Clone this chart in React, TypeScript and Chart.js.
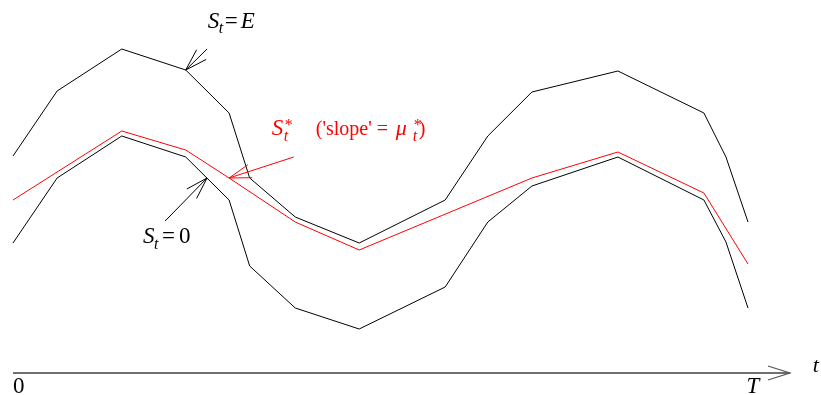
import React, { useEffect, useRef } from "react";
import { Chart, registerables } from "chart.js";

Chart.register(...registerables);

// time grid as a fraction of the horizon T (0 .. 1)
const T_GRID = [0, 0.06, 0.148, 0.235, 0.294, 0.322, 0.384, 0.471, 0.588, 0.646, 0.706, 0.823, 0.94, 0.97, 1.0];
// upper boundary S_t = E
const S_UPPER = [21.7, 28.2, 32.4, 30.3, 26.0, 19.5, 15.6, 13.0, 17.3, 23.7, 28.1, 30.2, 26.0, 21.6, 15.1];
// lower boundary S_t = 0
const S_LOWER = [13.0, 19.5, 23.7, 21.6, 17.3, 10.7, 6.5, 4.4, 8.6, 15.1, 18.7, 21.6, 17.3, 13.1, 6.5];
// optimal path S*_t
const T_STAR = [0, 0.148, 0.235, 0.294, 0.384, 0.471, 0.706, 0.823, 0.94, 1.0];
const S_STAR = [17.3, 24.2, 22.3, 19.5, 15.1, 12.3, 19.5, 22.1, 18.0, 10.9];

// axis extent
const X_MIN = -0.0177;
const X_MAX = 1.0993;
const Y_MIN = -2.2;
const Y_MAX = 37.3;
const AXIS_END = 1.057;

// annotation arrows: [tailT, tailS, tipT, tipS]
const ARROW_E = [0.264, 32.4, 0.235, 30.3];
const ARROW_ZERO = [0.207, 15.2, 0.264, 19.5];
const ARROW_STAR = [0.382, 21.6, 0.294, 19.5];

// label anchors [t, s]
const LABEL_E = [0.265, 34.5];
const LABEL_ZERO = [0.177, 13.0];
const LABEL_STAR = [0.352, 23.8];
const LABEL_ORIGIN = [0, -2.0];
const LABEL_T = [0.998, -2.0];
const LABEL_TAXIS = [1.088, 0.1];

const FONT = '"Liberation Serif", "DejaVu Serif", serif';

type Run = { text: string; size: number; italic?: boolean; dx: number; dy?: number };

function drawRuns(ctx: CanvasRenderingContext2D, x: number, y: number, runs: Run[], color: string) {
  ctx.save();
  ctx.fillStyle = color;
  ctx.textBaseline = "alphabetic";
  ctx.textAlign = "left";
  for (const r of runs) {
    ctx.font = `${r.italic ? "italic " : ""}${r.size}px ${FONT}`;
    ctx.fillText(r.text, x + r.dx, y + (r.dy || 0));
  }
  ctx.restore();
}

function drawArrow(
  ctx: CanvasRenderingContext2D,
  x0: number, y0: number, x1: number, y1: number,
  color: string, width: number, shaft: boolean, headLen = 23, headAng = 0.3
) {
  ctx.save();
  ctx.strokeStyle = color;
  ctx.lineWidth = width;
  const ang = Math.atan2(y0 - y1, x0 - x1);
  ctx.beginPath();
  if (shaft) {
    ctx.moveTo(x0, y0);
    ctx.lineTo(x1, y1);
  }
  ctx.moveTo(x1 + headLen * Math.cos(ang + headAng), y1 + headLen * Math.sin(ang + headAng));
  ctx.lineTo(x1, y1);
  ctx.lineTo(x1 + headLen * Math.cos(ang - headAng), y1 + headLen * Math.sin(ang - headAng));
  ctx.stroke();
  ctx.restore();
}

const annotations = {
  id: "annotations",
  afterDatasetsDraw(chart: any) {
    const ctx: CanvasRenderingContext2D = chart.ctx;
    const xs = chart.scales.x;
    const ys = chart.scales.y;
    const px = (t: number) => xs.getPixelForValue(t);
    const py = (s: number) => ys.getPixelForValue(s);

    // time axis with arrow
    ctx.save();
    ctx.strokeStyle = "#707070";
    ctx.lineWidth = 2;
    ctx.beginPath();
    ctx.moveTo(px(0), py(0));
    ctx.lineTo(px(AXIS_END), py(0));
    ctx.stroke();
    ctx.restore();
    drawArrow(ctx, px(0), py(0), px(AXIS_END), py(0), "#555", 1.2, false, 23, 0.31);

    const arr = (a: number[], color: string) =>
      drawArrow(ctx, px(a[0]), py(a[1]), px(a[2]), py(a[3]), color, 1, true, 23, 0.3);
    arr(ARROW_E, "#000");
    arr(ARROW_ZERO, "#000");
    arr(ARROW_STAR, "#ff0000");

    drawRuns(ctx, px(LABEL_E[0]), py(LABEL_E[1]), [
      { text: "S", size: 23, italic: true, dx: 0 },
      { text: "t", size: 16, italic: true, dx: 11, dy: 5 },
      { text: "=", size: 23, dx: 17 },
      { text: "E", size: 23, italic: true, dx: 33 },
    ], "#000");

    drawRuns(ctx, px(LABEL_ZERO[0]), py(LABEL_ZERO[1]), [
      { text: "S", size: 23, italic: true, dx: 0 },
      { text: "t", size: 16, italic: true, dx: 11, dy: 6 },
      { text: "=", size: 23, dx: 19 },
      { text: "0", size: 23, dx: 36 },
    ], "#000");

    drawRuns(ctx, px(LABEL_STAR[0]), py(LABEL_STAR[1]), [
      { text: "S", size: 23, italic: true, dx: 0 },
      { text: "*", size: 16, dx: 13, dy: -5 },
      { text: "t", size: 16, italic: true, dx: 12, dy: 6 },
      { text: "('slope' = ", size: 20, dx: 44 },
      { text: "μ", size: 22, italic: true, dx: 124 },
      { text: "*", size: 16, dx: 142, dy: -5 },
      { text: "t", size: 16, italic: true, dx: 141, dy: 6 },
      { text: ")", size: 20, dx: 147 },
    ], "#ff0000");

    drawRuns(ctx, px(LABEL_ORIGIN[0]), py(LABEL_ORIGIN[1]), [{ text: "0", size: 23, dx: 0 }], "#000");
    drawRuns(ctx, px(LABEL_T[0]), py(LABEL_T[1]), [{ text: "T", size: 23, italic: true, dx: 0 }], "#000");
    drawRuns(ctx, px(LABEL_TAXIS[0]), py(LABEL_TAXIS[1]), [{ text: "t", size: 22, italic: true, dx: 0 }], "#000");
  },
};

export default function App() {
  const ref = useRef<HTMLCanvasElement | null>(null);

  useEffect(() => {
    if (!ref.current) return;
    const toPts = (ts: number[], ss: number[]) => ts.map((t, i) => ({ x: t, y: ss[i] }));
    const chart = new Chart(ref.current, {
      type: "line",
      data: {
        datasets: [
          { label: "S_t = E", data: toPts(T_GRID, S_UPPER), borderColor: "#000", borderWidth: 1, pointRadius: 0, tension: 0, fill: false },
          { label: "S_t = 0", data: toPts(T_GRID, S_LOWER), borderColor: "#000", borderWidth: 1, pointRadius: 0, tension: 0, fill: false },
          { label: "S*_t", data: toPts(T_STAR, S_STAR), borderColor: "#ff0000", borderWidth: 1, pointRadius: 0, tension: 0, fill: false },
        ],
      },
      options: {
        animation: false,
        responsive: false,
        maintainAspectRatio: false,
        devicePixelRatio: 1,
        layout: { padding: 0 },
        scales: {
          x: { type: "linear", min: X_MIN, max: X_MAX, display: false },
          y: { type: "linear", min: Y_MIN, max: Y_MAX, display: false },
        },
        plugins: { legend: { display: false }, tooltip: { enabled: false }, title: { display: false } },
        events: [],
      },
      plugins: [annotations],
    });
    return () => chart.destroy();
  }, []);

  return (
    <div style={{ position: "absolute", left: 0, top: 0, width: 821, height: 395, background: "#fff" }}>
      <canvas ref={ref} width={821} height={395} style={{ display: "block" }} />
    </div>
  );
}
